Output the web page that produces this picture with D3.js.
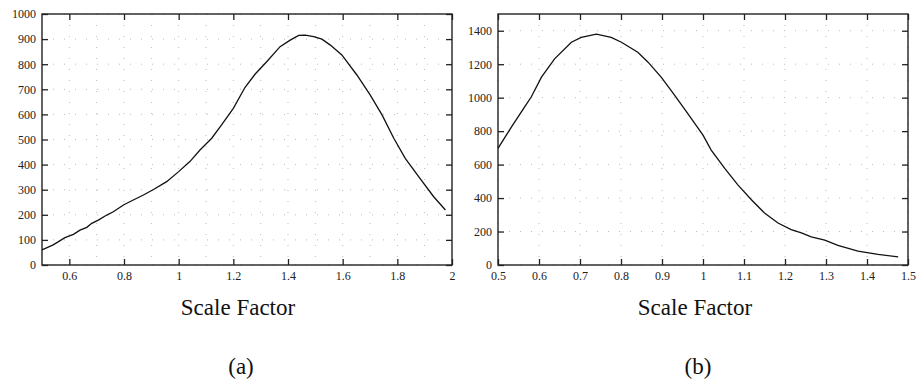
<!DOCTYPE html>
<html>
<meta charset="utf-8">
<title>Scale Factor</title>
<script src="https://d3js.org/d3.v7.min.js"></script>
<body style="margin:0; background:#fff">
<script>
// panel (a)
var scaleA = [0.5, 0.541, 0.584, 0.615, 0.639, 0.664, 0.682, 0.706, 0.737, 0.761, 0.798, 0.834, 0.871, 0.908, 0.956, 1.0,
  1.041, 1.078, 1.121, 1.157, 1.2, 1.243, 1.28, 1.322, 1.371, 1.408, 1.439, 1.463, 1.494, 1.524, 1.555, 1.597,
  1.652, 1.701, 1.744, 1.787, 1.829, 1.878, 1.933, 1.976];
var countA = [60, 80, 109, 122, 139, 150, 166, 179, 199, 212, 239, 259, 279, 301, 332, 372,
  412, 458, 505, 558, 624, 708, 761, 810, 870, 896, 915, 916, 910, 900, 876, 837,
  757, 677, 598, 505, 425, 352, 272, 219];
var xTicksA = [0.6, 0.8, 1, 1.2, 1.4, 1.6, 1.8, 2];
var yTicksA = [0, 100, 200, 300, 400, 500, 600, 700, 800, 900, 1000];

// panel (b)
var scaleB = [0.5, 0.533, 0.565, 0.581, 0.606, 0.638, 0.679, 0.703, 0.74, 0.776, 0.801, 0.841, 0.866, 0.898, 0.931, 0.963,
  1.0, 1.02, 1.053, 1.085, 1.118, 1.15, 1.183, 1.215, 1.24, 1.264, 1.297, 1.329, 1.378, 1.427, 1.476];
var countB = [697, 826, 945, 1004, 1123, 1232, 1331, 1360, 1380, 1360, 1331, 1271, 1212, 1123, 1014, 905,
  776, 687, 578, 479, 390, 311, 251, 212, 192, 168, 149, 117, 83, 63, 48];
var xTicksB = [0.5, 0.6, 0.7, 0.8, 0.9, 1, 1.1, 1.2, 1.3, 1.4, 1.5];
var yTicksB = [0, 200, 400, 600, 800, 1000, 1200, 1400];

var width = 918, height = 383;
var serif = "'Liberation Serif'";
var svg = d3.select("body").append("svg").attr("width", width).attr("height", height);

function panel(opt) {
  var x = d3.scaleLinear().domain(opt.xDomain).range([opt.left, opt.right]);
  var y = d3.scaleLinear().domain(opt.yDomain).range([opt.bottom, opt.top]);
  var g = svg.append("g");

  // dotted grid
  g.selectAll(".gx").data(opt.xGrid).enter().append("line")
    .attr("x1", function(d) { return x(d); }).attr("x2", function(d) { return x(d); })
    .attr("y1", opt.top).attr("y2", opt.bottom)
    .attr("stroke", "#aaa").attr("stroke-width", 0.8).attr("stroke-dasharray", "1,10");
  g.selectAll(".gy").data(opt.yTicks).enter().append("line")
    .attr("x1", opt.left).attr("x2", opt.right)
    .attr("y1", function(d) { return y(d); }).attr("y2", function(d) { return y(d); })
    .attr("stroke", "#aaa").attr("stroke-width", 0.8).attr("stroke-dasharray", "1,10");

  // axes with inward ticks
  var bottom = g.append("g").attr("transform", "translate(0," + opt.bottom + ")")
    .call(d3.axisBottom(x).tickValues(opt.xTicks).tickSize(-6).tickPadding(6).tickFormat(d3.format("")));
  var left = g.append("g").attr("transform", "translate(" + opt.left + ",0)")
    .call(d3.axisLeft(y).tickValues(opt.yTicks).tickSize(-6).tickPadding(6).tickFormat(d3.format("")));
  var top = g.append("g").attr("transform", "translate(0," + opt.top + ")")
    .call(d3.axisTop(x).tickValues(opt.xTicks).tickSize(-6).tickFormat(""));
  var right = g.append("g").attr("transform", "translate(" + opt.right + ",0)")
    .call(d3.axisRight(y).tickValues(opt.yTicks).tickSize(-6).tickFormat(""));
  [bottom, left, top, right].forEach(function(a) {
    a.select(".domain").remove();
    a.selectAll("line").attr("stroke", "#222").attr("stroke-width", 1.3);
    a.selectAll("text")
      .style("font-family", serif).style("font-size", "12px").attr("fill", "#222");
  });
  bottom.selectAll("text").attr("dy", "0.75em");

  g.append("rect")
    .attr("x", opt.left).attr("y", opt.top)
    .attr("width", opt.right - opt.left).attr("height", opt.bottom - opt.top)
    .attr("fill", "none").attr("stroke", "#222").attr("stroke-width", 1.4);

  var line = d3.line().x(function(d) { return x(d[0]); }).y(function(d) { return y(d[1]); });
  g.append("path")
    .datum(d3.zip(opt.xs, opt.ys))
    .attr("d", line)
    .attr("fill", "none").attr("stroke", "#111").attr("stroke-width", 1.3);

  g.append("text").attr("x", opt.labelX).attr("y", 315)
    .attr("text-anchor", "middle").attr("fill", "#111")
    .style("font-family", serif).style("font-size", "23px").text("Scale Factor");
  g.append("text").attr("x", opt.labelX + 3).attr("y", 374)
    .attr("text-anchor", "middle").attr("fill", "#111")
    .style("font-family", serif).style("font-size", "23px").text(opt.tag);
}

panel({
  left: 42, right: 452, top: 14, bottom: 265,
  xDomain: [0.5, 2], yDomain: [0, 1000],
  xTicks: xTicksA, yTicks: yTicksA,
  xGrid: d3.range(6, 20).map(function(i) { return i / 10; }),
  xs: scaleA, ys: countA, labelX: 238, tag: "(a)"
});
panel({
  left: 498, right: 908, top: 14, bottom: 265,
  xDomain: [0.5, 1.5], yDomain: [0, 1500],
  xTicks: xTicksB, yTicks: yTicksB,
  xGrid: xTicksB,
  xs: scaleB, ys: countB, labelX: 695, tag: "(b)"
});
</script>
</body>
</html>
